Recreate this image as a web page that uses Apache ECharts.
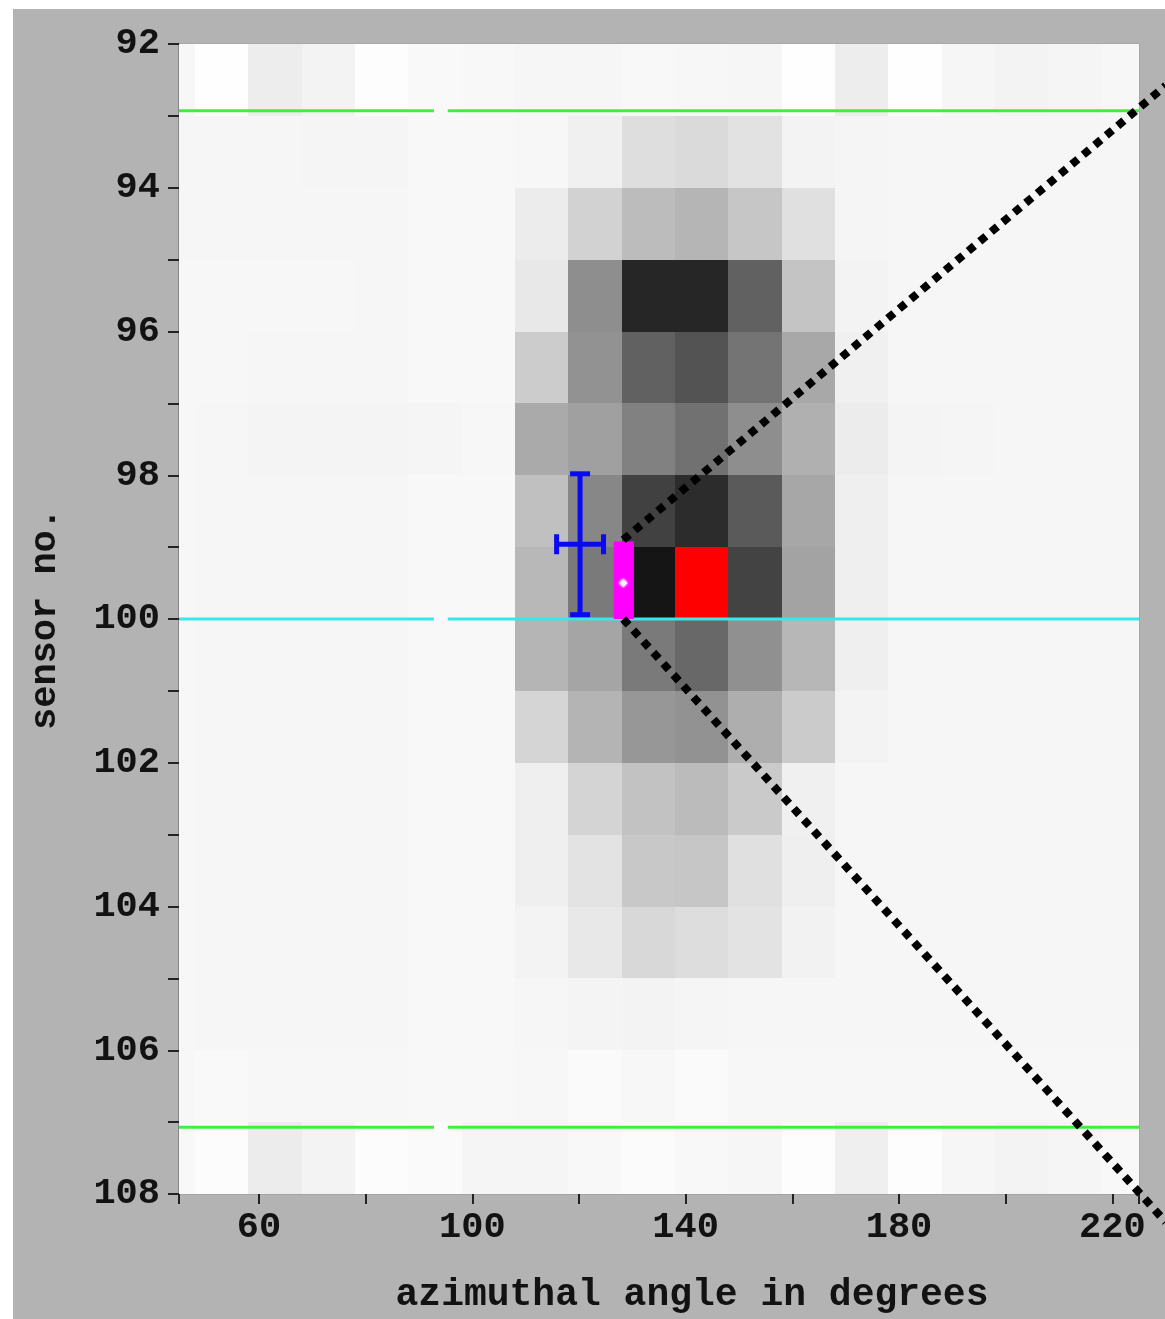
<!DOCTYPE html>
<html>
<head>
<meta charset="utf-8">
<script src="https://cdn.jsdelivr.net/npm/echarts@6/dist/echarts.min.js"></script>
<style>
  html, body { margin: 0; padding: 0; background: #ffffff; width: 1165px; height: 1319px; overflow: hidden; }
  #chart { position: absolute; left: 13px; top: 9px; width: 1152px; height: 1310px; }
</style>
</head>
<body>
<div id="chart"></div>
<script>
// ---- angular bins (10 degree wide, centres) and sensor rows ----
const binWidth = 10;
const binCenters = [43, 53, 63, 73, 83, 93, 103, 113, 123, 133, 143, 153, 163, 173, 183, 193, 203, 213, 223];
const sensors = [92, 93, 94, 95, 96, 97, 98, 99, 100, 101, 102, 103, 104, 105, 106, 107];

// ---- measured intensity per sensor, one value per angular bin ----
const row92  = [8, 1, 18, 12, 2, 6, 7, 9, 9, 7, 8, 9, 1, 18, 1, 9, 12, 10, 8];
const row93  = [9, 9, 9, 10, 10, 7, 7, 8, 15, 33, 37, 29, 12, 10, 9, 9, 9, 9, 9];
const row94  = [9, 9, 9, 9, 9, 7, 7, 19, 45, 67, 74, 57, 31, 10, 9, 9, 9, 9, 9];
const row95  = [8, 8, 8, 8, 9, 7, 7, 23, 113, 217, 217, 158, 59, 12, 9, 9, 9, 9, 9];
const row96  = [8, 8, 9, 9, 9, 7, 7, 51, 109, 158, 172, 139, 87, 15, 9, 9, 9, 9, 9];
const row97  = [8, 9, 11, 11, 11, 10, 8, 85, 95, 126, 142, 113, 79, 19, 11, 10, 9, 9, 9];
const row98  = [8, 9, 9, 9, 9, 7, 7, 63, 120, 190, 211, 165, 88, 16, 9, 9, 9, 9, 9];
const row99  = [8, 9, 9, 9, 9, 7, 7, 71, 133, 234, 243, 188, 92, 16, 9, 9, 9, 9, 9];
const row100 = [8, 9, 9, 9, 9, 7, 7, 74, 90, 133, 151, 111, 72, 16, 9, 9, 9, 9, 9];
const row101 = [8, 9, 9, 9, 9, 7, 7, 42, 75, 104, 109, 81, 52, 12, 9, 9, 9, 9, 9];
const row102 = [8, 9, 9, 9, 9, 7, 7, 16, 43, 61, 68, 53, 15, 9, 9, 9, 9, 9, 9];
const row103 = [8, 9, 9, 9, 9, 7, 7, 16, 28, 55, 57, 31, 16, 9, 9, 9, 9, 9, 9];
const row104 = [8, 9, 9, 9, 9, 7, 7, 12, 23, 39, 34, 28, 13, 9, 9, 9, 9, 9, 9];
const row105 = [8, 9, 9, 9, 9, 7, 7, 9, 11, 12, 10, 9, 9, 9, 9, 9, 9, 9, 9];
const row106 = [8, 6, 8, 8, 8, 7, 7, 8, 5, 8, 5, 8, 8, 8, 8, 8, 8, 8, 8];
const row107 = [7, 3, 19, 12, 3, 5, 10, 10, 7, 4, 7, 9, 2, 16, 2, 9, 12, 10, 7];
const intensityRows = [row92, row93, row94, row95, row96, row97, row98, row99,
                       row100, row101, row102, row103, row104, row105, row106, row107];

// ---- reconstructed hit and cluster markers ----
const maxCell = [143, 99];                       // bin centre, sensor
const clusterBar = [126.5, 130.3, 98.92, 100];   // angle from/to, sensor from/to
const clusterCentre = [128.3, 99.5];
const fitPoint = [120.2, 98.96, 4.4, 0.98];      // angle, sensor, angle error, sensor error
const coneEdges = [
  [128.3, 98.9, 230, 92.58],
  [128.3, 100, 230, 108.39]
];

// ---- module boundary lines (interrupted between two angles) ----
const boundaryRows = [92.93, 107.07];
const centreRow = 100;
const lineGap = [92.8, 95.4];

// ---- axis ticks and labels ----
const xTicks = [45, 60, 80, 100, 120, 140, 160, 180, 200, 220, 225];
const xLabels = [60, 100, 140, 180, 220];
const yTicks = [92, 93, 94, 95, 96, 97, 98, 99, 100, 101, 102, 103, 104, 105, 106, 107, 108];
const yLabels = [92, 94, 96, 98, 100, 102, 104, 106, 108];

const heatData = [];
sensors.forEach((s, i) => {
  binCenters.forEach((c, k) => heatData.push([c, s, intensityRows[i][k]]));
});

const segData = [];
boundaryRows.forEach(r => {
  segData.push([45, r, lineGap[0], r, 0]);
  segData.push([lineGap[1], r, 225, r, 0]);
});
segData.push([45, centreRow, lineGap[0], centreRow, 1]);
segData.push([lineGap[1], centreRow, 225, centreRow, 1]);
const segColors = ['#3ef03e', '#36e8ec'];

function clipToGrid(params, x0, y0, x1, y1) {
  const cs = params.coordSys;
  const l = Math.round(Math.min(x0, x1)), r = Math.round(Math.max(x0, x1));
  const t = Math.round(Math.min(y0, y1)), b = Math.round(Math.max(y0, y1));
  return echarts.graphic.clipRectByRect(
    { x: l, y: t, width: r - l, height: b - t },
    { x: cs.x, y: cs.y, width: cs.width, height: cs.height }
  );
}

const axisFont = { fontFamily: 'Liberation Mono', fontWeight: 'bold', fontSize: 37, color: '#121212' };

const chart = echarts.init(document.getElementById('chart'), null, { renderer: 'canvas' });
chart.setOption({
  backgroundColor: '#b3b3b3',
  animation: false,
  grid: { left: 166, top: 35, width: 960, height: 1154, show: true, borderColor: '#9c9c9c', borderWidth: 1, backgroundColor: '#f6f6f6' },
  visualMap: {
    show: false, type: 'continuous', seriesIndex: 0, dimension: 2,
    min: 0, max: 255, inRange: { color: ['#ffffff', '#000000'] }
  },
  xAxis: {
    type: 'value', min: 45, max: 225,
    name: 'azimuthal angle in degrees', nameLocation: 'middle', nameGap: 82,
    nameTextStyle: Object.assign({}, axisFont, { fontSize: 38, padding: [0, 0, 0, 66] }),
    axisLine: { show: true, lineStyle: { color: '#a4a4a4', width: 1 } },
    axisTick: { show: true, customValues: xTicks, length: 10, lineStyle: { color: '#222', width: 2 } },
    axisLabel: Object.assign({ customValues: xLabels, margin: 15 }, axisFont),
    splitLine: { show: false }
  },
  yAxis: {
    type: 'value', min: 92, max: 108, inverse: true,
    name: 'sensor no.', nameLocation: 'middle', nameGap: 115,
    nameTextStyle: axisFont,
    axisLine: { show: true, lineStyle: { color: '#858585', width: 2 } },
    axisTick: { show: true, customValues: yTicks, length: 11, lineStyle: { color: '#222', width: 2 } },
    axisLabel: Object.assign({ customValues: yLabels, margin: 19 }, axisFont),
    splitLine: { show: false }
  },
  series: [
    {
      type: 'custom', name: 'intensity', data: heatData, z: 1,
      renderItem(params, api) {
        const x = api.value(0), s = api.value(1);
        const a = api.coord([x - binWidth / 2, s]);
        const b = api.coord([x + binWidth / 2, s + 1]);
        const shape = clipToGrid(params, a[0], a[1], b[0], b[1]);
        if (!shape) return;
        return { type: 'rect', shape, style: { fill: api.visual('color') } };
      }
    },
    {
      type: 'custom', name: 'max cell', data: [maxCell], z: 2,
      renderItem(params, api) {
        const x = api.value(0), s = api.value(1);
        const a = api.coord([x - binWidth / 2, s]);
        const b = api.coord([x + binWidth / 2, s + 1]);
        const shape = clipToGrid(params, a[0], a[1], b[0], b[1]);
        return { type: 'rect', shape, style: { fill: '#ff0000' } };
      }
    },
    {
      type: 'custom', name: 'boundaries', data: segData, z: 3,
      renderItem(params, api) {
        const p = api.coord([api.value(0), api.value(1)]);
        const q = api.coord([api.value(2), api.value(3)]);
        return {
          type: 'line', shape: { x1: p[0], y1: p[1], x2: q[0], y2: q[1] },
          style: { stroke: segColors[api.value(4)], lineWidth: 3 }
        };
      }
    },
    {
      type: 'custom', name: 'cluster', data: [clusterBar], z: 4,
      renderItem(params, api) {
        const a = api.coord([api.value(0), api.value(2)]);
        const b = api.coord([api.value(1), api.value(3)]);
        return {
          type: 'rect',
          shape: { x: Math.min(a[0], b[0]), y: Math.min(a[1], b[1]), width: Math.abs(b[0] - a[0]), height: Math.abs(b[1] - a[1]) },
          style: { fill: '#ff00ff' }
        };
      }
    },
    {
      type: 'scatter', name: 'centre', data: [clusterCentre], z: 5,
      symbol: 'diamond', symbolSize: 9, itemStyle: { color: '#ffffff', shadowBlur: 3, shadowColor: '#ffffff' }
    },
    {
      type: 'custom', name: 'fit', data: [fitPoint], z: 6,
      renderItem(params, api) {
        const x = api.value(0), s = api.value(1), ex = api.value(2), es = api.value(3);
        const c = api.coord([x, s]);
        const l = api.coord([x - ex, s]), r = api.coord([x + ex, s]);
        const t = api.coord([x, s - es]), b = api.coord([x, s + es]);
        const cap = 10;
        const st = { stroke: '#0a0af0', lineWidth: 5, lineCap: 'butt' };
        return {
          type: 'group',
          children: [
            { type: 'line', shape: { x1: l[0], y1: c[1], x2: r[0], y2: c[1] }, style: st },
            { type: 'line', shape: { x1: c[0], y1: t[1], x2: c[0], y2: b[1] }, style: st },
            { type: 'line', shape: { x1: l[0], y1: c[1] - cap, x2: l[0], y2: c[1] + cap }, style: st },
            { type: 'line', shape: { x1: r[0], y1: c[1] - cap, x2: r[0], y2: c[1] + cap }, style: st },
            { type: 'line', shape: { x1: c[0] - cap, y1: t[1], x2: c[0] + cap, y2: t[1] }, style: st },
            { type: 'line', shape: { x1: c[0] - cap, y1: b[1], x2: c[0] + cap, y2: b[1] }, style: st }
          ]
        };
      }
    },
    {
      type: 'custom', name: 'cone', data: coneEdges, z: 7, clip: false,
      renderItem(params, api) {
        const p = api.coord([api.value(0), api.value(1)]);
        const q = api.coord([api.value(2), api.value(3)]);
        return {
          type: 'line', shape: { x1: p[0], y1: p[1], x2: q[0], y2: q[1] },
          style: { stroke: '#000000', lineWidth: 8, lineDash: [8, 7], lineCap: 'butt' }
        };
      }
    }
  ]
});
</script>
</body>
</html>
